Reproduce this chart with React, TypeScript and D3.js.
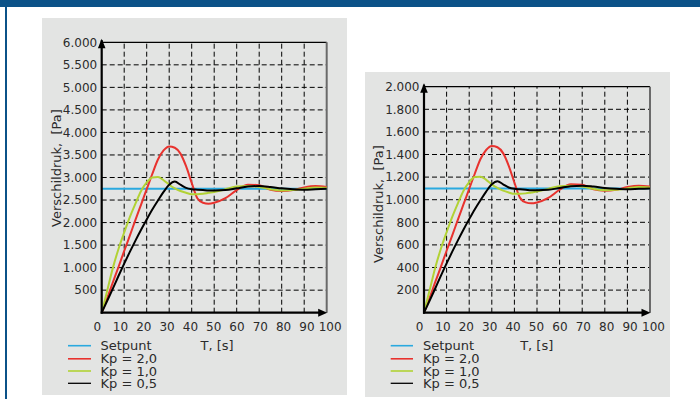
import React from "react";
import * as d3 from "d3";

const times = [0, 2.5, 5, 7.5, 10, 12.5, 15, 17.5, 20, 22.5, 25, 27.5, 30, 32.5, 35, 37.5, 40, 42.5, 45, 47.5, 50, 55, 60, 65, 70, 75, 80, 85, 90, 95, 100];

const leftRed = [0, 330, 680, 1020, 1370, 1710, 2060, 2400, 2740, 3080, 3400, 3600, 3690, 3660, 3530, 3250, 2880, 2540, 2440, 2420, 2440, 2540, 2720, 2840, 2830, 2730, 2700, 2720, 2780, 2810, 2790];
const leftYellow = [0, 500, 1000, 1420, 1780, 2120, 2420, 2700, 2890, 3000, 3010, 2940, 2840, 2760, 2700, 2660, 2630, 2630, 2640, 2660, 2680, 2740, 2800, 2810, 2790, 2740, 2710, 2720, 2750, 2780, 2770];
const leftBlack = [0, 270, 540, 820, 1090, 1350, 1600, 1840, 2070, 2290, 2490, 2680, 2840, 2910, 2840, 2770, 2740, 2730, 2720, 2710, 2710, 2720, 2760, 2800, 2810, 2790, 2760, 2740, 2730, 2740, 2750];
const leftSetpoint = 2750;

const rightRed = [0, 132, 272, 408, 548, 684, 824, 960, 1096, 1232, 1360, 1440, 1476, 1464, 1412, 1300, 1152, 1016, 976, 968, 976, 1016, 1088, 1136, 1132, 1092, 1080, 1088, 1112, 1124, 1116];
const rightYellow = [0, 200, 400, 568, 712, 848, 968, 1080, 1156, 1200, 1204, 1176, 1136, 1104, 1080, 1064, 1052, 1052, 1056, 1064, 1072, 1096, 1120, 1124, 1116, 1096, 1084, 1088, 1100, 1112, 1108];
const rightBlack = [0, 108, 216, 328, 436, 540, 640, 736, 828, 916, 996, 1072, 1136, 1164, 1136, 1108, 1096, 1092, 1088, 1084, 1084, 1088, 1104, 1120, 1124, 1116, 1104, 1096, 1092, 1096, 1100];
const rightSetpoint = 1100;

const xTicks = [0, 10, 20, 30, 40, 50, 60, 70, 80, 90, 100];
const xTickLabels = ["0", "10", "20", "30", "40", "50", "60", "70", "80", "90", "100"];
const leftYTicks = [500, 1000, 1500, 2000, 2500, 3000, 3500, 4000, 4500, 5000, 5500, 6000];
const leftYTickLabels = ["500", "1.000", "1.500", "2.000", "2.500", "3.000", "3.500", "4.000", "4.500", "5.000", "5.500", "6.000"];
const rightYTicks = [200, 400, 600, 800, 1000, 1200, 1400, 1600, 1800, 2000];
const rightYTickLabels = ["200", "400", "600", "800", "1.000", "1.200", "1.400", "1.600", "1.800", "2.000"];

const legendLabels = ["Setpunt", "Kp = 2,0", "Kp = 1,0", "Kp = 0,5"];
const colors = ["#2aa9df", "#e8322e", "#b2d235", "#000000"];

const FONT = "'DejaVu Sans', Verdana, sans-serif";
const TXT = "#2b2b2b";

type PanelProps = {
  panel: [number, number, number, number];
  xRange: [number, number];
  yRange: [number, number];
  yMax: number;
  yTicks: number[];
  yTickLabels: string[];
  red: number[];
  yellow: number[];
  black: number[];
  setpoint: number;
  yTitleX: number;
  yTitleY: number;
  xTitleX: number;
  legendLineX: [number, number];
  legendTextX: number;
};

function Panel(p: PanelProps) {
  const x = d3.scaleLinear().domain([0, 100]).range(p.xRange);
  const xl = d3.scaleLinear().domain([0, 100]).range([p.xRange[0] - 4.5, p.xRange[1] + 3.5]);
  const y = d3.scaleLinear().domain([0, p.yMax]).range(p.yRange);
  const line = d3
    .line<number>()
    .x((_, i) => x(times[i]))
    .y((d) => y(d))
    .curve(d3.curveMonotoneX);
  const [x0, x1] = p.xRange;
  const [yb, yt] = p.yRange;
  const series = [p.red, p.yellow, p.black];
  const legendY = [345.7, 358.8, 371, 383.3];
  return (
    <g>
      <rect x={p.panel[0]} y={p.panel[1]} width={p.panel[2]} height={p.panel[3]} fill="#e3e4e3" />
      {p.yTicks.slice(0, -1).map((t) => (
        <line key={"h" + t} x1={x0} x2={x1} y1={y(t)} y2={y(t)} stroke="#000" strokeWidth={1} strokeDasharray="5,3" />
      ))}
      {xTicks.slice(1, -1).map((t) => (
        <line key={"v" + t} x1={x(t)} x2={x(t)} y1={yb} y2={yt} stroke="#000" strokeWidth={1} strokeDasharray="5,3" />
      ))}
      <line x1={x0} x2={x1} y1={yt} y2={yt} stroke="#000" strokeWidth={1.2} />
      <line x1={x1} x2={x1} y1={yt} y2={yb} stroke="#6a6a6a" strokeWidth={2} />
      <line x1={x(0)} x2={x(100)} y1={y(p.setpoint)} y2={y(p.setpoint)} stroke={colors[0]} strokeWidth={2} />
      {series.map((s, i) => (
        <path key={i} d={line(s) || ""} fill="none" stroke={colors[i + 1]} strokeWidth={2} />
      ))}
      <line x1={x0} x2={x0} y1={yb + 1} y2={yt - 2} stroke="#000" strokeWidth={2.2} />
      <path d={`M${x0 - 3.8},${yt + 6} L${x0},${yt - 3.5} L${x0 + 3.8},${yt + 6} Z`} fill="#000" />
      <line x1={x0 - 1} x2={x1 - 6} y1={yb} y2={yb} stroke="#000" strokeWidth={2.2} />
      <path d={`M${x1 - 8.5},${yb - 4} L${x1 + 0.5},${yb} L${x1 - 8.5},${yb + 4} Z`} fill="#000" />
      {p.yTicks.map((t, i) => (
        <text key={"yl" + t} x={x0 - 4.5} y={y(t)} dy="0.36em" textAnchor="end" fontSize={12} fontFamily={FONT} fill={TXT}>
          {p.yTickLabels[i]}
        </text>
      ))}
      {xTicks.map((t, i) => (
        <text key={"xl" + t} x={xl(t)} y={326.7} dy="0.36em" textAnchor="middle" fontSize={12} fontFamily={FONT} fill={TXT}>
          {xTickLabels[i]}
        </text>
      ))}
      <text x={p.xTitleX} y={345.7} dy="0.36em" textAnchor="middle" fontSize={13} fontFamily={FONT} fill={TXT}>
        T, [s]
      </text>
      <text
        transform={`translate(${p.yTitleX},${p.yTitleY}) rotate(-90)`}
        dy="0.36em"
        textAnchor="middle"
        fontSize={13}
        fontFamily={FONT}
        fill={TXT}
        style={{ whiteSpace: "pre" }}
      >
        {"Verschildruk,  [Pa]"}
      </text>
      {legendLabels.map((l, i) => (
        <g key={l}>
          <line x1={p.legendLineX[0]} x2={p.legendLineX[1]} y1={legendY[i]} y2={legendY[i]} stroke={colors[i]} strokeWidth={i === 3 ? 1.3 : 1.6} />
          <text x={p.legendTextX} y={legendY[i]} dy="0.36em" fontSize={13} fontFamily={FONT} fill={TXT}>
            {l}
          </text>
        </g>
      ))}
    </g>
  );
}

export default function App() {
  return (
    <svg width={700} height={399} style={{ position: "absolute", left: 0, top: 0, background: "#fff" }}>
      <rect x={0} y={0} width={700} height={399} fill="#fff" />
      <rect x={0} y={0} width={700} height={7} fill="#0b5288" />
      <rect x={5} y={0} width={2} height={399} fill="#0b5288" />
      <Panel
        panel={[42, 18, 305, 377]}
        xRange={[101.7, 326.7]}
        yRange={[312.7, 42.3]}
        yMax={6000}
        yTicks={leftYTicks}
        yTickLabels={leftYTickLabels}
        red={leftRed}
        yellow={leftYellow}
        black={leftBlack}
        setpoint={leftSetpoint}
        yTitleX={56}
        yTitleY={168}
        xTitleX={217}
        legendLineX={[68, 91]}
        legendTextX={100.5}
      />
      <Panel
        panel={[365, 72, 305, 325]}
        xRange={[424, 650]}
        yRange={[312.7, 86.7]}
        yMax={2000}
        yTicks={rightYTicks}
        yTickLabels={rightYTickLabels}
        red={rightRed}
        yellow={rightYellow}
        black={rightBlack}
        setpoint={rightSetpoint}
        yTitleX={378}
        yTitleY={204}
        xTitleX={536.7}
        legendLineX={[390.7, 413]}
        legendTextX={423}
      />
    </svg>
  );
}
